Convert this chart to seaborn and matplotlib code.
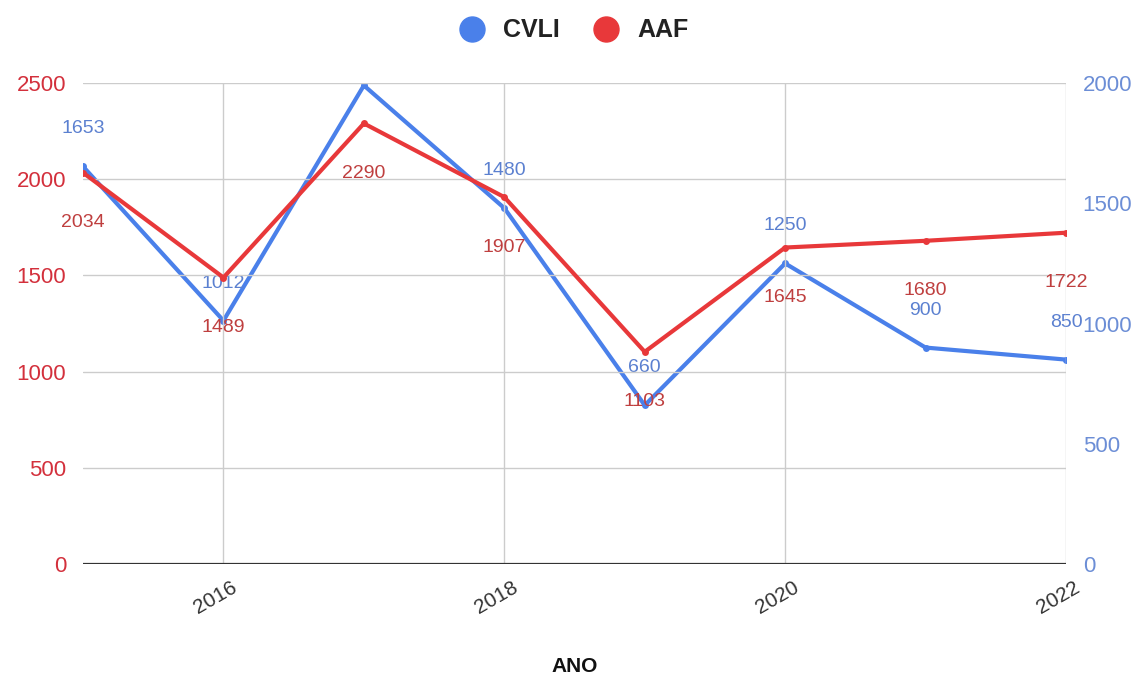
import pandas as pd
import matplotlib
matplotlib.use("Agg")
import matplotlib.pyplot as plt
import matplotlib.transforms as mtransforms
import seaborn as sns
from matplotlib.lines import Line2D
from matplotlib.patches import Rectangle

# Data
anos = [2015, 2016, 2017, 2018, 2019, 2020, 2021, 2022]
cvli = [1653, 1012, 1990, 1480, 660, 1250, 900, 850]
aaf = [2034, 1489, 2290, 1907, 1103, 1645, 1680, 1722]

left_ticks = [0, 500, 1000, 1500, 2000, 2500]
right_ticks = [0, 500, 1000, 1500, 2000]
x_ticks = [2016, 2018, 2020, 2022]

df = pd.DataFrame({"ANO": anos, "CVLI": cvli, "AAF": aaf})

blue = "#4a80ea"
red = "#e8383a"
blue_txt = "#5b80d0"
red_txt = "#bf3f3f"

sns.set_style("white")
plt.rcParams["font.family"] = ["Liberation Sans", "DejaVu Sans"]

fig = plt.figure(figsize=(11.39, 6.75), dpi=100)
ax1 = fig.add_axes([0.0729, 0.1644, 0.8630, 0.7126])
ax2 = ax1.twinx()

# red series (left axis) drawn above the blue one
ax1.set_zorder(2)
ax1.patch.set_visible(False)

sns.lineplot(ax=ax2, data=df, x="ANO", y="CVLI", color=blue, linewidth=3,
             marker="o", markersize=5, markeredgewidth=0, legend=False)
sns.lineplot(ax=ax1, data=df, x="ANO", y="AAF", color=red, linewidth=3,
             marker="o", markersize=5, markeredgewidth=0, legend=False)

# value labels: CVLI above the point, AAF below
# labels are clipped only at the top/bottom of the plot area
def add_label(ax, x, v, dy, color):
    t = ax.annotate(str(v), (x, v), xytext=(0, dy), textcoords="offset points",
                    ha="center", va="center", fontsize=14, color=color)
    clip = Rectangle((-0.2, 0), 1.4, 1, transform=ax.transAxes)
    t.set_clip_path(clip)
    t.set_clip_on(True)

for x, v in zip(anos, cvli):
    add_label(ax2, x, v, 27, blue_txt)
for x, v in zip(anos, aaf):
    add_label(ax1, x, v, -36, red_txt)

ax1.set_xlim(2015, 2022)
ax1.set_ylim(0, 2500)
ax2.set_ylim(0, 2000)
ax1.set_yticks(left_ticks)
ax2.set_yticks(right_ticks)
ax1.set_xticks(x_ticks)
ax1.set_xticklabels([str(t) for t in x_ticks])

ax1.tick_params(axis="y", length=0, pad=12, labelsize=16, labelcolor="#d3303c")
ax2.tick_params(axis="y", length=0, pad=12, labelsize=16, labelcolor="#6c8ed6")
ax1.tick_params(axis="x", length=0, pad=10, labelsize=15, labelcolor="#333333")

offset = mtransforms.ScaledTranslation(0.17, 0, fig.dpi_scale_trans)
for lab in ax1.get_xticklabels():
    lab.set_rotation(30)
    lab.set_ha("right")
    lab.set_transform(lab.get_transform() + offset)

ax1.grid(True, color="#cccccc", linewidth=1)
ax1.set_axisbelow(True)
ax2.grid(False)
for a in (ax1, ax2):
    for s in a.spines.values():
        s.set_visible(False)
ax1.axhline(0, color="#333333", linewidth=1.6, zorder=1)

ax1.set_xlabel("ANO", fontsize=15, fontweight="bold", color="#111111", labelpad=28)
ax1.set_ylabel("")
ax2.set_ylabel("")

handles = [Line2D([], [], marker="o", linestyle="", markersize=18, color=blue),
           Line2D([], [], marker="o", linestyle="", markersize=18, color=red)]
leg = fig.legend(handles, ["CVLI", "AAF"], loc="center", bbox_to_anchor=(0.4985, 0.955),
                 ncol=2, frameon=False, handletextpad=0.25, columnspacing=0.85,
                 labelcolor="#222222", prop={"weight": "bold", "size": 18})

fig.savefig("out.png", dpi=100, facecolor="white")
